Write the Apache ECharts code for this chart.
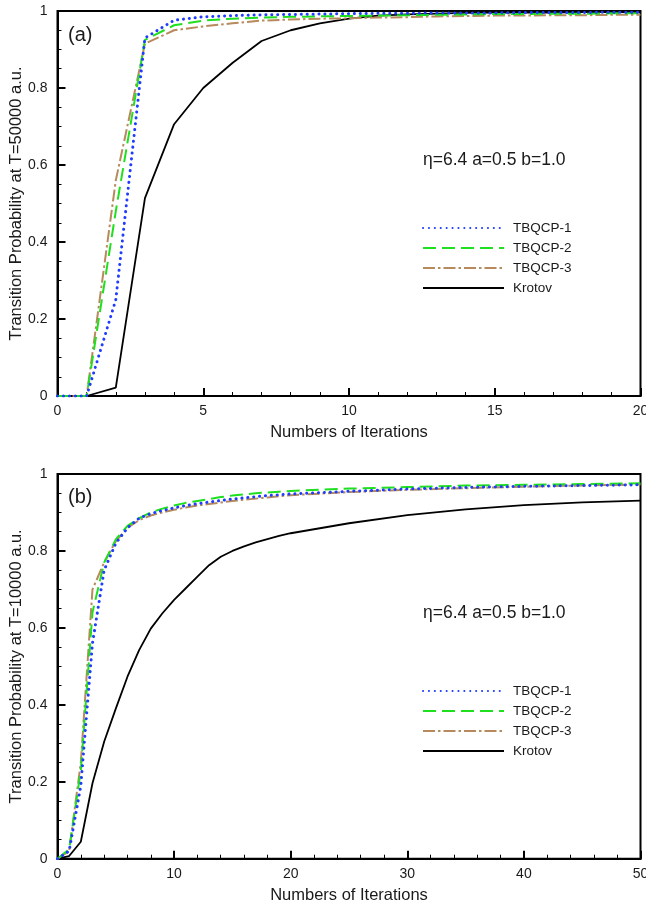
<!DOCTYPE html>
<html>
<head>
<meta charset="utf-8">
<script src="https://cdn.jsdelivr.net/npm/echarts@6/dist/echarts.min.js"></script>
<style>
html,body{margin:0;padding:0;background:#fff;}
#chart{width:646px;height:905px;}
</style>
</head>
<body>
<div id="chart"></div>
<script>
// ---- Data ----
const seriesNames = ['TBQCP-1', 'TBQCP-2', 'TBQCP-3', 'Krotov'];

// Panel (a): T = 50000 a.u.
const iterA = [0,1,2,3,4,5,6,7,8,9,10,11,12,13,14,15,16,17,18,19,20];
const tbqcp1A = [0,0,0.25,0.93,0.976,0.985,0.988,0.99,0.991,0.992,0.993,0.994,0.994,0.995,0.995,0.995,0.996,0.996,0.996,0.997,0.997];
const tbqcp2A = [0,0,0.48,0.925,0.963,0.975,0.98,0.983,0.985,0.986,0.987,0.988,0.989,0.99,0.991,0.992,0.992,0.993,0.993,0.994,0.994];
const tbqcp3A = [0,0,0.56,0.915,0.95,0.96,0.968,0.975,0.978,0.98,0.981,0.983,0.984,0.986,0.987,0.988,0.988,0.989,0.989,0.99,0.99];
const krotovA = [0,0,0.022,0.514,0.706,0.80,0.865,0.922,0.95,0.968,0.98,0.988,0.991,0.993,0.995,0.996,0.996,0.996,0.997,0.997,0.997];

// Panel (b): T = 10000 a.u.
const iterB = [0,1,2,3,4,5,6,7,8,9,10,11,12,13,14,15,16,17,18,19,20,25,30,35,40,45,50];
const tbqcp1B = [0,0.02,0.19,0.56,0.75,0.82,0.86,0.885,0.897,0.905,0.912,0.918,0.923,0.927,0.931,0.935,0.938,0.941,0.944,0.946,0.948,0.955,0.961,0.965,0.968,0.97,0.972];
const tbqcp2B = [0,0.025,0.23,0.64,0.77,0.83,0.865,0.885,0.9,0.91,0.918,0.925,0.93,0.935,0.94,0.944,0.947,0.95,0.952,0.954,0.956,0.962,0.966,0.97,0.972,0.974,0.976];
const tbqcp3B = [0,0.02,0.25,0.70,0.77,0.825,0.86,0.88,0.892,0.9,0.907,0.913,0.918,0.922,0.926,0.93,0.933,0.936,0.939,0.942,0.945,0.953,0.959,0.963,0.967,0.97,0.973];
const krotovB = [0,0.007,0.044,0.196,0.304,0.39,0.473,0.542,0.598,0.638,0.673,0.703,0.733,0.763,0.785,0.80,0.812,0.822,0.831,0.839,0.846,0.872,0.893,0.908,0.919,0.926,0.931];

const yTicks = [0, 0.2, 0.4, 0.6, 0.8, 1];
const xTicksA = [0, 5, 10, 15, 20];
const xTicksB = [0, 10, 20, 30, 40, 50];
const xAxisTitle = 'Numbers of Iterations';
const yAxisTitleA = 'Transition Probability at T=50000 a.u.';
const yAxisTitleB = 'Transition Probability at T=10000 a.u.';
const paramText = 'η=6.4 a=0.5 b=1.0';

// ---- Styles ----
const FONT = '"Liberation Sans", Arial, Helvetica, sans-serif';
const TXT = '#1a1a1a';
const styles = [
  {color: '#1f3cff', width: 3, type: [0.1, 5.8], cap: 'round'},
  {color: '#1ee01e', width: 2, type: [13, 6], cap: 'butt'},
  {color: '#b68a5c', width: 2, type: [12, 3, 2.5, 3], cap: 'butt'},
  {color: '#000000', width: 1.8, type: 'solid', cap: 'butt'}
];

function zip(xs, ys) { return xs.map((x, i) => [x, ys[i]]); }

function makeX(gridIndex, ticks) {
  const step = ticks[1] - ticks[0];
  return {
    type: 'value', gridIndex: gridIndex,
    min: ticks[0], max: ticks[ticks.length - 1], interval: step,
    name: xAxisTitle, nameLocation: 'middle', nameGap: 28, nameMoveOverlap: false,
    nameTextStyle: {fontFamily: FONT, fontSize: 16.5, color: TXT},
    axisLine: {show: true, lineStyle: {color: '#000', width: 2}},
    axisTick: {show: true, inside: true, length: 8, lineStyle: {color: '#000', width: 2}},
    minorTick: {show: true, splitNumber: 5, length: 4, lineStyle: {color: '#000', width: 1}},
    axisLabel: {fontFamily: FONT, fontSize: 14, color: TXT, margin: 8, hideOverlap: false},
    splitLine: {show: false}
  };
}
function makeY(gridIndex, title) {
  return {
    type: 'value', gridIndex: gridIndex,
    min: yTicks[0], max: yTicks[yTicks.length - 1], interval: yTicks[1] - yTicks[0],
    name: title, nameLocation: 'middle', nameGap: 33, nameRotate: 90, nameMoveOverlap: false,
    nameTextStyle: {fontFamily: FONT, fontSize: 16.5, color: TXT},
    axisLine: {show: true, lineStyle: {color: '#000', width: 2}},
    axisTick: {show: true, inside: true, length: 8, lineStyle: {color: '#000', width: 2}},
    minorTick: {show: true, splitNumber: 4, length: 4, lineStyle: {color: '#000', width: 1}},
    axisLabel: {fontFamily: FONT, fontSize: 14, color: TXT, margin: 10,
      formatter: v => String(+v.toFixed(2))},
    splitLine: {show: false}
  };
}

const dataA = [tbqcp1A, tbqcp2A, tbqcp3A, krotovA];
const dataB = [tbqcp1B, tbqcp2B, tbqcp3B, krotovB];
const series = [];
function addSeries(dataSet, xs, idx) {
  dataSet.forEach((d, i) => series.push({
    name: seriesNames[i], type: 'line', xAxisIndex: idx, yAxisIndex: idx,
    data: zip(xs, d), symbol: 'none', showSymbol: false, animation: false, z: 10 - i,
    lineStyle: {color: styles[i].color, width: styles[i].width, type: styles[i].type, cap: styles[i].cap},
    itemStyle: {color: styles[i].color}
  }));
}
addSeries(dataA, iterA, 0);
addSeries(dataB, iterB, 1);

function makeLegend(top) {
  return {
    show: true, orient: 'vertical', left: 417, top: top,
    itemWidth: 81, itemHeight: 14, itemGap: 6,
    data: seriesNames.map(n => ({name: n, itemStyle: {opacity: 0}})),
    selectedMode: false,
    itemStyle: {opacity: 0},
    textStyle: {fontFamily: FONT, fontSize: 13.5, color: TXT, padding: [0, 0, 0, 4]}
  };
}

const gridBase = {left: 57.5, width: 583, show: true, borderColor: '#000', borderWidth: 2,
  backgroundColor: 'transparent', containLabel: false, outerBoundsMode: 'none'};

const chart = echarts.init(document.getElementById('chart'), null, {renderer: 'canvas'});
chart.setOption({
  backgroundColor: '#fff',
  animation: false,
  grid: [
    Object.assign({}, gridBase, {top: 11, height: 385}),
    Object.assign({}, gridBase, {top: 474, height: 384.7})
  ],
  xAxis: [makeX(0, xTicksA), makeX(1, xTicksB)],
  yAxis: [makeY(0, yAxisTitleA), makeY(1, yAxisTitleB)],
  legend: [makeLegend(216), makeLegend(679)],
  series: series,
  graphic: [
    {type: 'text', left: 68, top: 25, style: {text: '(a)', font: '20px ' + FONT, fill: TXT}},
    {type: 'text', left: 423, top: 151, style: {text: paramText, font: '17.5px ' + FONT, fill: TXT}},
    {type: 'text', left: 68, top: 487, style: {text: '(b)', font: '20px ' + FONT, fill: TXT}},
    {type: 'text', left: 423, top: 604, style: {text: paramText, font: '17.5px ' + FONT, fill: TXT}}
  ]
});
</script>
</body>
</html>
